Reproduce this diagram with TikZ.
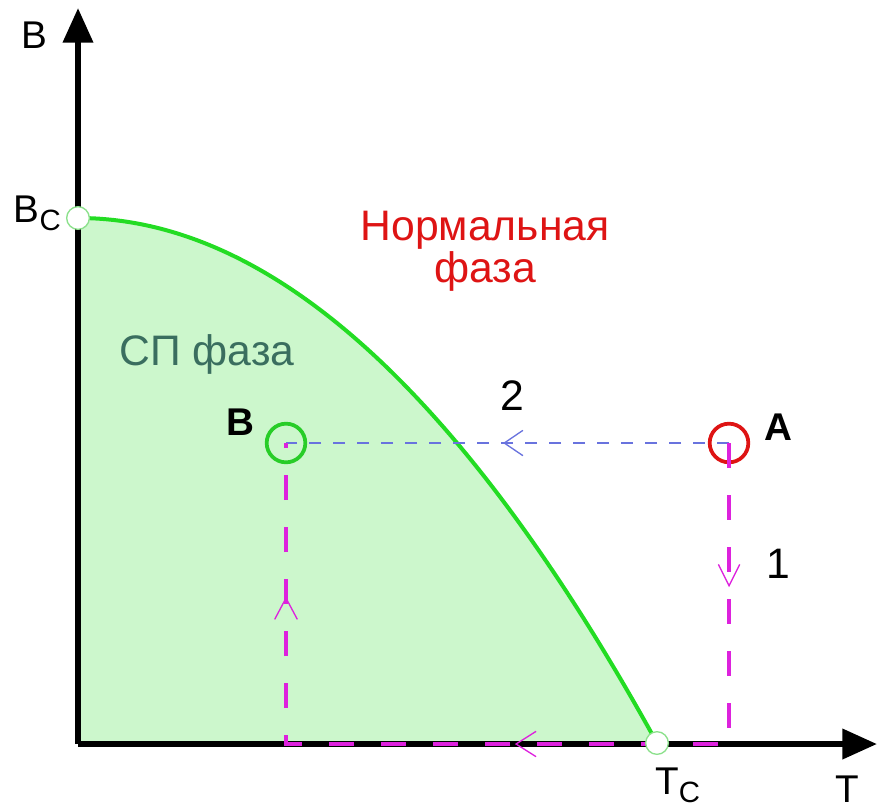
\documentclass[tikz,border=0pt]{standalone}
\usepackage{fontspec}
\setmainfont{Liberation Sans}
\usepackage{tikz}
\usetikzlibrary{
  positioning,
  arrows.meta,
  decorations.markings,
  calc
}
\definecolor{PhaseGreen}{RGB}{35,220,35}
\definecolor{PhaseFill}{RGB}{204,247,204}
\definecolor{RingGreen}{RGB}{40,205,40}
\definecolor{PathMag}{RGB}{221,34,221}
\definecolor{PathBlue}{RGB}{105,115,222}
\definecolor{NormRed}{RGB}{222,20,20}
\definecolor{ScText}{RGB}{58,110,95}
\definecolor{DotEdge}{RGB}{140,225,140}
\newcommand{\subcfont}{\fontsize{22}{22}\selectfont}

\begin{document}
\begin{tikzpicture}[
  x=0.75pt, y=-0.75pt,
  font=\fontsize{29}{34}\selectfont,
  axis/.style={line width=4.5pt, -{Triangle[length=26pt,width=22pt]}},
  curve/.style={line width=3pt, PhaseGreen},
  ring/.style={circle, line width=2.8pt, minimum size=29pt, inner sep=0pt},
  cdot/.style={circle, fill=white, draw=DotEdge, line width=1pt,
    minimum size=17pt, inner sep=0pt},
  big/.style={font=\fontsize{32}{32}\selectfont, inner sep=0pt},
  lab/.style={inner sep=0pt},
  pathM/.style={PathMag, line width=3pt, dash pattern=on 19pt off 20pt,
    decoration={markings,
      mark=at position 0.138 with {\arrow{Straight Barb[length=16pt,width=16pt,line width=1pt]}},
      mark=at position 0.493 with {\arrow{Straight Barb[length=15pt,width=19pt,line width=1pt]}},
      mark=at position 0.853 with {\arrow{Straight Barb[length=16pt,width=17pt,line width=1pt]}}},
    postaction={decorate}},
  pathB/.style={PathBlue, line width=1.6pt, dash pattern=on 9pt off 9pt,
    decoration={markings,
      mark=at position 0.51 with {\arrow{Straight Barb[length=14pt,width=19pt,line width=1pt]}}},
    postaction={decorate}},
]
  \useasboundingbox (0,0) rectangle (880,811);

  % ========== key points ==========
  \coordinate (O)    at (78,744);
  \coordinate (Ytop) at (78,8);
  \coordinate (Xend) at (877,744);
  \coordinate (Bc)   at (78,218);
  \coordinate (Tc)   at (657,743);

  % ========== superconducting region under B_c(T) ==========
  \fill[PhaseFill] (Bc) .. controls (271,218) and (464,393) .. (Tc) -- (O) -- cycle;
  \draw[curve] (Bc) .. controls (271,218) and (464,393) .. (Tc);

  % ========== axes ==========
  \draw[axis] (O) -- (Ytop);
  \draw[axis] (O) -- (Xend);

  % ========== states A and B ==========
  \node[ring, draw=NormRed]   (A) at (729,443) {};
  \node[ring, draw=RingGreen] (B) at (286,443) {};

  % path 2: direct cooling at constant field
  \draw[pathB] (A.center) -- (B.center);
  % path 1: field off, cool, field on
  \draw[pathM] (A.center) -- (A.center|-O) -- (B.center|-O) -- (B.center);

  \node[cdot] (BcDot) at (Bc) {};
  \node[cdot] (TcDot) at (Tc) {};

  % ========== labels ==========
  \node[lab, anchor=base] (Blab) at (34,48) {B};
  \node[lab, anchor=base] (Tlab) at (847,802) {T};
  \node[lab, anchor=base east] (BcLab) at (61,222) {B\raisebox{-6pt}{\subcfont C}};
  \node[lab, anchor=base west] (TcLab) at (655,794) {T\raisebox{-6pt}{\subcfont C}};

  \node[big, anchor=base, NormRed] (norm1) at (485,240) {Нормальная};
  \node[big, anchor=base, NormRed] (norm2) at (485,282) {фаза};
  \node[big, anchor=base, ScText]  (sc)    at (207,365) {СП фаза};

  \node[big, anchor=base] (n2) at (512,410) {2};
  \node[big, anchor=base] (n1) at (778,578) {1};
  \node[lab, anchor=base, font=\fontsize{29}{34}\selectfont\bfseries] (Alab) at (778,440) {A};
  \node[lab, anchor=base, font=\fontsize{29}{34}\selectfont\bfseries] (BLab) at (240,435) {B};
\end{tikzpicture}
\end{document}
